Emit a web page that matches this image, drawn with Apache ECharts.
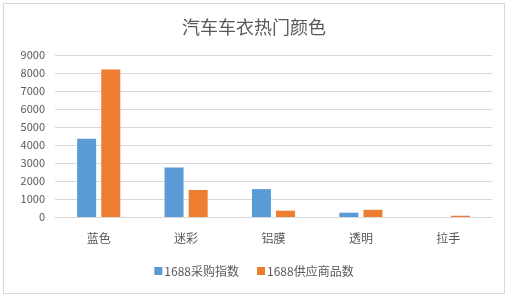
<!DOCTYPE html>
<html><head><meta charset="utf-8">
<script src="https://cdn.jsdelivr.net/npm/echarts@6/dist/echarts.min.js"></script>
<style>
html,body{margin:0;padding:0;background:#fff;}
#c{position:absolute;left:3px;top:3px;width:502px;height:291px;border:1px solid #d9d9d9;box-sizing:border-box;}
</style></head>
<body><div id="c"></div>
<script>
const title = '汽车车衣热门颜色';
const categories = ['蓝色','迷彩','铝膜','透明','拉手'];
const seriesNames = ['1688采购指数','1688供应商品数'];
const purchaseIndex = [4350, 2750, 1550, 240, 0];
const supplyCount = [8200, 1500, 350, 400, 70];
const yTicks = {min:0, max:9000, interval:1000};

const chart = echarts.init(document.getElementById('c'));
const font = '"Microsoft YaHei","Noto Sans CJK SC",sans-serif';
chart.setOption({
  animation:false,
  title:{text:title,left:'center',top:9,textStyle:{fontFamily:font,fontSize:18,fontWeight:'normal',color:'#595959'}},
  legend:{bottom:11,left:'center',itemWidth:8,itemHeight:8,itemGap:18,icon:'rect',
    textStyle:{fontFamily:font,fontSize:12,color:'#595959',padding:[0,0,0,-3]},data:seriesNames},
  grid:{left:51,right:12,top:51,bottom:76},
  xAxis:{type:'category',data:categories,
    axisLine:{lineStyle:{color:'#d9d9d9'}},axisTick:{show:false},
    axisLabel:{fontFamily:font,fontSize:12,color:'#595959',margin:15}},
  yAxis:{type:'value',min:yTicks.min,max:yTicks.max,interval:yTicks.interval,
    axisLine:{show:false},axisTick:{show:false},
    splitLine:{lineStyle:{color:'#d9d9d9'}},
    axisLabel:{fontFamily:font,fontSize:11,color:'#595959',margin:10,formatter:v=>String(v)}},
  series:[
    {name:seriesNames[0],type:'bar',data:purchaseIndex,itemStyle:{color:'#5B9BD5'},barWidth:19,barGap:'27%'},
    {name:seriesNames[1],type:'bar',data:supplyCount,itemStyle:{color:'#ED7D31'},barWidth:19}
  ]
});
</script></body></html>
